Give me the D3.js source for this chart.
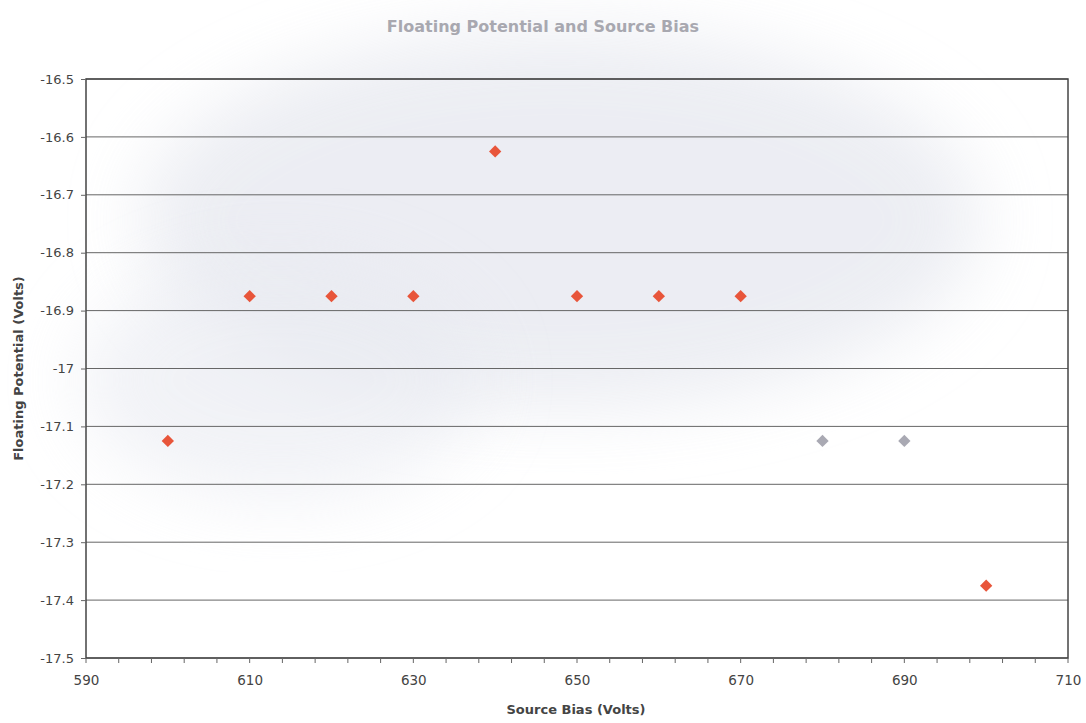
<!DOCTYPE html>
<html>
<head>
<meta charset="utf-8">
<script src="https://cdn.jsdelivr.net/npm/d3@7"></script>
<style>
  body { margin: 0; background: #fff; }
  text { font-family: "DejaVu Sans", Arial, sans-serif; }
</style>
</head>
<body>
<script>
// data
var biasRed = [600, 610, 620, 630, 640, 650, 660, 670, 700];
var potRed = [-17.125, -16.875, -16.875, -16.875, -16.625, -16.875, -16.875, -16.875, -17.375];
var biasGray = [680, 690];
var potGray = [-17.125, -17.125];
var xTicks = [590, 610, 630, 650, 670, 690, 710];
var yTicks = [-16.5, -16.6, -16.7, -16.8, -16.9, -17, -17.1, -17.2, -17.3, -17.4, -17.5];

var W = 1086, H = 723;
var margin = {left: 86, top: 79, right: 18, bottom: 65},
    width = W - margin.left - margin.right,
    height = H - margin.top - margin.bottom;

var svgRoot = d3.select("body").append("svg")
    .attr("width", W)
    .attr("height", H);

// scanned paper blotch
var defs = svgRoot.append("defs");
defs.append("filter").attr("id", "blur")
    .attr("x", "-30%").attr("y", "-30%").attr("width", "160%").attr("height", "160%")
  .append("feGaussianBlur").attr("stdDeviation", 35);
svgRoot.append("ellipse")
    .attr("cx", 560).attr("cy", 220).attr("rx", 420).attr("ry", 190)
    .style("fill", "#e6e8ef").style("opacity", 0.75)
    .attr("filter", "url(#blur)");
svgRoot.append("ellipse")
    .attr("cx", 280).attr("cy", 380).attr("rx", 200).attr("ry", 120)
    .style("fill", "#e8eaf1").style("opacity", 0.6)
    .attr("filter", "url(#blur)");

var svg = svgRoot.append("g")
    .attr("transform", "translate(" + margin.left + "," + margin.top + ")");

var xScale = d3.scaleLinear().domain([590, 710]).range([0, width]);
var yScale = d3.scaleLinear().domain([-16.5, -17.5]).range([0, height]);

// gridlines
svg.selectAll(".grid")
    .data(yTicks)
    .enter().append("line")
        .attr("x1", 0).attr("x2", width)
        .attr("y1", d => yScale(d)).attr("y2", d => yScale(d))
        .style("stroke", "#666")
        .style("stroke-width", 1);

// frame
svg.append("rect")
    .attr("width", width).attr("height", height)
    .style("fill", "none")
    .style("stroke", "#444")
    .style("stroke-width", 1.5);

// axes (hyphen minus like the original)
var fmt = d => String(Math.round(d * 10) / 10);
var yAxis = svg.append("g")
    .call(d3.axisLeft(yScale).tickValues(yTicks).tickSize(5).tickPadding(7).tickFormat(fmt));
yAxis.select(".domain").remove();
yAxis.selectAll("line").style("stroke", "#666");
yAxis.selectAll("text").style("font-size", "13px").style("fill", "#444")
    .attr("font-family", "DejaVu Sans");

var minor = d3.range(590, 711, 4);
svg.append("g")
    .attr("transform", "translate(0," + height + ")")
    .selectAll("line").data(minor)
    .enter().append("line")
        .attr("x1", d => xScale(d)).attr("x2", d => xScale(d))
        .attr("y1", 0).attr("y2", 5)
        .style("stroke", "#666");

var xAxis = svg.append("g")
    .attr("transform", "translate(0," + height + ")")
    .call(d3.axisBottom(xScale).tickValues(xTicks).tickSize(0).tickPadding(17).tickFormat(fmt));
xAxis.select(".domain").remove();
xAxis.selectAll("text").style("font-size", "13.5px").style("fill", "#444")
    .attr("font-family", "DejaVu Sans");

// markers: squares turned 45 degrees
var diamond = d3.symbol().type(d3.symbolSquare).size(76);
svg.selectAll(".red")
    .data(biasRed)
    .enter().append("path")
        .attr("transform", (d, i) => "translate(" + xScale(d) + "," + yScale(potRed[i]) + ") rotate(45)")
        .attr("d", diamond)
        .style("fill", "#e8553a");
svg.selectAll(".gray")
    .data(biasGray)
    .enter().append("path")
        .attr("transform", (d, i) => "translate(" + xScale(d) + "," + yScale(potGray[i]) + ") rotate(45)")
        .attr("d", diamond)
        .style("fill", "#a9a9b3");

// titles
svgRoot.append("text")
    .attr("x", 543).attr("y", 32)
    .attr("text-anchor", "middle")
    .style("font-size", "16px").style("font-weight", "bold")
    .style("fill", "#a8a8b0")
    .text("Floating Potential and Source Bias");

svgRoot.append("text")
    .attr("x", 576).attr("y", 714)
    .attr("text-anchor", "middle")
    .style("font-size", "13px").style("font-weight", "bold")
    .style("fill", "#444")
    .text("Source Bias (Volts)");

svgRoot.append("text")
    .attr("transform", "translate(23," + (margin.top + height / 2) + ") rotate(-90)")
    .attr("text-anchor", "middle")
    .style("font-size", "13px").style("font-weight", "bold")
    .style("fill", "#444")
    .text("Floating Potential (Volts)");
</script>
</body>
</html>
